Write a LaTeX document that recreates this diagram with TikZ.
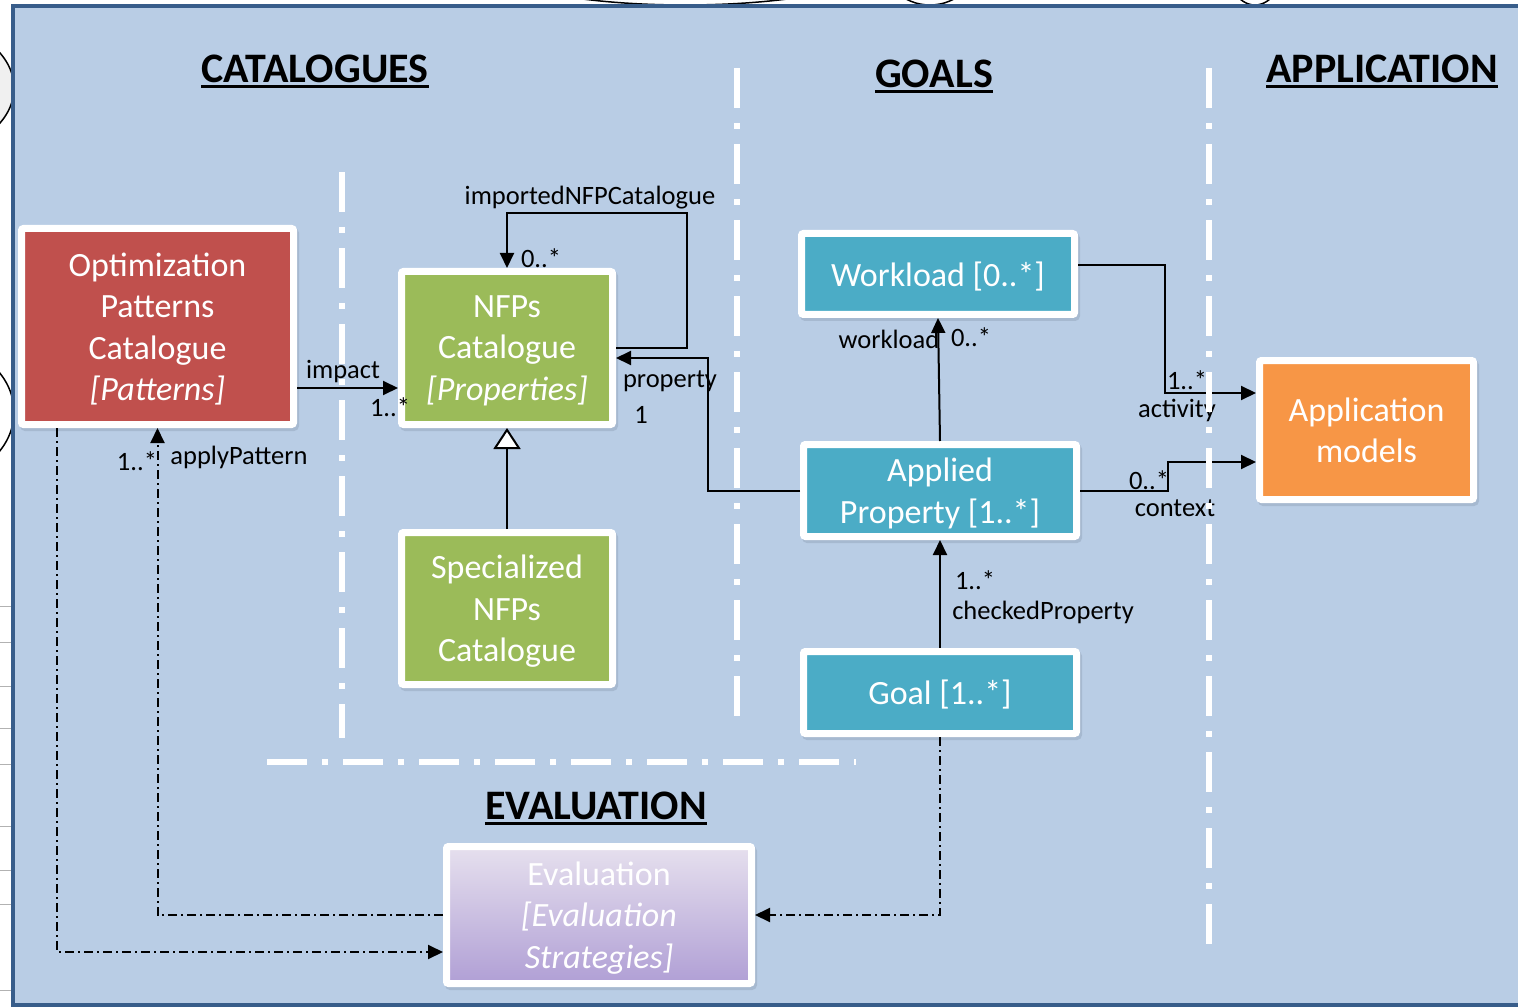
\documentclass[tikz,border=0pt]{standalone}
\usepackage{fontspec}
\setmainfont{Carlito}
\usetikzlibrary{arrows.meta,shadows,calc}

\definecolor{panelblue}{HTML}{B9CDE5}
\definecolor{paneledge}{HTML}{385D8A}
\definecolor{boxshadow}{HTML}{94A6BD}
\definecolor{catred}{HTML}{C0504D}
\definecolor{nfpgreen}{HTML}{9BBB59}
\definecolor{goalteal}{HTML}{4BACC6}
\definecolor{apporange}{HTML}{F79646}
\definecolor{evaltop}{HTML}{E6E0EE}
\definecolor{evalbot}{HTML}{B09FD5}

\begin{document}
\begin{tikzpicture}[x=1pt,y=-1pt,
  box/.style={draw=white, line width=7pt, rounded corners=2pt, text=white,
    align=center, inner sep=0pt, text depth=0pt, font=\fontsize{34}{41.5}\selectfont,
    drop shadow={shadow xshift=2pt, shadow yshift=-3pt, fill=boxshadow,
      draw=boxshadow, line width=7pt}},
  lbl/.style={font=\fontsize{26.5}{31}\selectfont, inner sep=0pt},
  head/.style={font=\fontsize{42}{48}\selectfont\bfseries, inner sep=0pt, anchor=base},
  tip/.style={-{Triangle[length=15pt,width=14pt]}},
  conn/.style={line width=2pt, tip},
  dashdot/.style={line width=2pt, dash pattern=on 9pt off 4pt on 2pt off 4pt, tip},
  sep/.style={white, line width=6pt, dash pattern=on 40pt off 15pt on 6pt off 15pt},
]
\useasboundingbox (0,0) rectangle (1518,1008);
\clip (0,0) rectangle (1518,1008);
\fill[white] (0,0) rectangle (1518,1008);

% neighbouring shapes peeking out from behind the panel
\draw[fill=gray!12, line width=1.5pt] (-78,88) ellipse [x radius=92, y radius=66];
\draw[fill=white, line width=1.5pt] (-70,412) ellipse [x radius=84, y radius=70];
\draw[fill=white, line width=1.5pt] (685,-40) ellipse [x radius=205, y radius=45];
\draw[fill=white, line width=1.5pt] (930,-40) ellipse [x radius=48, y radius=45];
\draw[fill=white, line width=1.5pt] (1255,-40) ellipse [x radius=30, y radius=45];
\foreach \yy in {606,642,686,728,764,826,870,904,990}
  \draw[gray!60, line width=1pt] (0,\yy) -- (12,\yy);

% panel
\draw[paneledge, fill=panelblue, line width=4pt] (13,6) rectangle (1530,1005);

% section headers
\node[head] (hcat) at (315,83) {CATALOGUES};
\draw[line width=3pt] ([yshift=-4pt]hcat.base west) -- ([yshift=-4pt]hcat.base east);
\node[head] (hgoal) at (934,88) {GOALS};
\draw[line width=3pt] ([yshift=-4pt]hgoal.base west) -- ([yshift=-4pt]hgoal.base east);
\node[head] (happ) at (1382,83) {APPLICATION};
\draw[line width=3pt] ([yshift=-4pt]happ.base west) -- ([yshift=-4pt]happ.base east);
\node[head] (heval) at (596,819) {EVALUATION};
\draw[line width=3pt] ([yshift=-4pt]heval.base west) -- ([yshift=-4pt]heval.base east);

% boxes
\node[box, fill=catred, minimum width=272pt, minimum height=196pt] (opt) at (157.5,326.5)
  {Optimization\\Patterns\\Catalogue\\\textit{[Patterns]}};
\node[box, fill=nfpgreen, minimum width=211pt, minimum height=153pt] (nfp) at (507,348)
  {NFPs\\Catalogue\\\textit{[Properties]}};
\node[box, fill=nfpgreen, minimum width=211pt, minimum height=152pt] (spec) at (507,608.5)
  {Specialized\\NFPs\\Catalogue};
\node[box, fill=goalteal, minimum width=273pt, minimum height=81pt] (work) at (938,274)
  {Workload [0..*]};
\node[box, fill=goalteal, minimum width=273pt, minimum height=92pt] (appl) at (940,490.5)
  {Applied\\Property [1..*]};
\node[box, fill=goalteal, minimum width=273pt, minimum height=82pt] (goal) at (940,692.5)
  {Goal [1..*]};
\node[box, fill=apporange, minimum width=214pt, minimum height=139pt] (app) at (1366.5,430)
  {Application\\models};
\node[box, top color=evaltop, bottom color=evalbot, minimum width=305pt, minimum height=137pt]
  (eval) at (599,915) {Evaluation\\\textit{[Evaluation}\\\textit{Strategies]}};

% association labels
\node[lbl] (limpact) at (343,372) {impact};
\node[lbl] (mimpact) at (390,407) {1..*};
\node[lbl] (limported) at (590,198) {importedNFPCatalogue};
\node[lbl] (mimported) at (541,258) {0..*};
\node[lbl] (lproperty) at (670,381) {property};
\node[lbl] (mproperty) at (641,415) {1};
\node[lbl] (lworkload) at (889,339) {workload};
\node[lbl] (mworkload) at (971,337) {0..*};
\node[lbl] (mactivity) at (1187,380) {1..*};
\node[lbl] (lactivity) at (1177,410) {activity};
\node[lbl] (mcontext) at (1149,480) {0..*};
\node[lbl] (lcontext) at (1175,508) {context};
\node[lbl] (mchecked) at (975,580) {1..*};
\node[lbl] (lchecked) at (1043,612) {checkedProperty};
\node[lbl] (mapply) at (137,461) {1..*};
\node[lbl] (lapply) at (239,457) {applyPattern};

% associations
\coordinate (imp0) at ([yshift=-61.5pt]opt.east);
\draw[conn] (imp0) -- (imp0 -| nfp.west);
\draw[conn] (nfp.east) -- ++(71,0) -- ++(0,-135) -| (nfp.north);
\draw[conn] (appl.west) -- ++(-92,0) |- ([yshift=-10pt]nfp.east);
\draw[line width=2pt, -{Triangle[length=21pt,width=27pt,fill=white]}] (spec.north) -- (nfp.south);
\draw[conn] (appl.north) -- (work.south);
\draw[conn] ([yshift=9pt]work.east) -- ++(87,0) |- ([yshift=37pt]app.west);
\draw[conn] (appl.east) -- ++(88,0) |- ([yshift=-32pt]app.west);
\draw[conn] (goal.north) -- (appl.south);
\draw[dashdot] (goal.south) |- (eval.east);
\draw[dashdot] (eval.west) -| (opt.south);
\draw[dashdot] ([xshift=-100.5pt]opt.south) |- ([yshift=-37pt]eval.west);

% section separators
\draw[sep] (342,172) -- (342,738);
\draw[sep] (737,68) -- (737,716);
\draw[sep] (1209,68) -- (1209,948);
\draw[sep] (267,762) -- (856,762);
\end{tikzpicture}
\end{document}
